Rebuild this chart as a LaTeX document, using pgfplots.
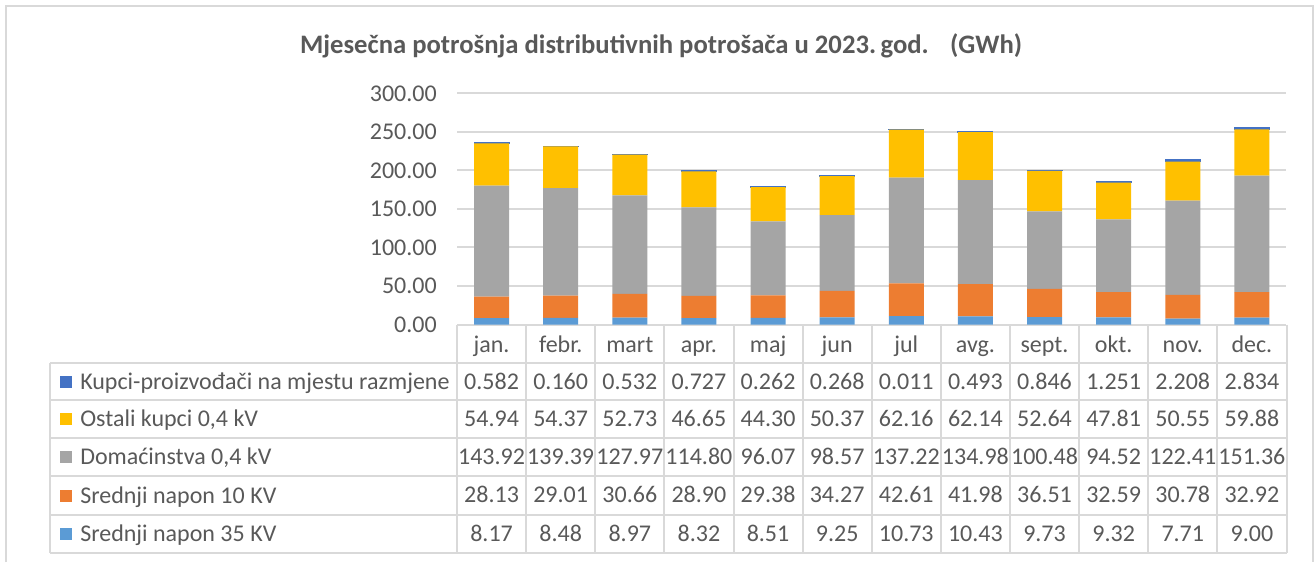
\documentclass[border=0pt]{standalone}
\usepackage{pgfplots}
\usepackage{pgfplotstable}
\usepackage{fontspec}
\pgfplotsset{compat=1.18}
\setmainfont{Carlito}

\definecolor{csn35}{HTML}{5B9BD5}
\definecolor{csn10}{HTML}{ED7D31}
\definecolor{cdom}{HTML}{A5A5A5}
\definecolor{costali}{HTML}{FFC000}
\definecolor{ckp}{HTML}{4472C4}
\definecolor{cgrid}{HTML}{D9D9D9}
\definecolor{ctxt}{HTML}{595959}

% monthly consumption, GWh
\pgfplotstableread{
idx month kp    ostali dom    sn10  sn35
0   jan.  0.582 54.94  143.92 28.13 8.17
1   febr. 0.160 54.37  139.39 29.01 8.48
2   mart  0.532 52.73  127.97 30.66 8.97
3   apr.  0.727 46.65  114.80 28.90 8.32
4   maj   0.262 44.30  96.07  29.38 8.51
5   jun   0.268 50.37  98.57  34.27 9.25
6   jul   0.011 62.16  137.22 42.61 10.73
7   avg.  0.493 62.14  134.98 41.98 10.43
8   sept. 0.846 52.64  100.48 36.51 9.73
9   okt.  1.251 47.81  94.52  32.59 9.32
10  nov.  2.208 50.55  122.41 30.78 7.71
11  dec.  2.834 59.88  151.36 32.92 9.00
}\data

\newcommand{\bodyfont}{\fontsize{18pt}{21pt}\selectfont}

\pgfplotsset{
  frame/.style={
    at={(342.75pt,-243.375pt)}, anchor=south west,
    scale only axis, width=622.1pt, height=173.4pt,
    xmin=-0.5, xmax=11.5, ymin=0, ymax=300,
  },
  cell/.style={draw=none, mark=none, nodes near coords,
    point meta=explicit symbolic,
    every node near coord/.append style={anchor=base, inner sep=0pt,
      font=\bodyfont, text=ctxt}},
}

\begin{document}
\begin{tikzpicture}
\begin{axis}[frame,
    ybar stacked, bar width=0.506,
    axis line style={draw=none},
    xtick=\empty,
    ytick={0,50,...,300},
    ytick style={draw=none},
    ymajorgrids, grid style={draw=cgrid, line width=1.5pt},
    yticklabel style={font=\bodyfont, text=ctxt, inner sep=0pt, xshift=-15pt,
      /pgf/number format/.cd, fixed, fixed zerofill, precision=2,
      assume math mode=true},
  ]
  \addplot[fill=csn35, draw=none] table[x=idx, y=sn35] {\data};
  \addplot[fill=csn10, draw=none] table[x=idx, y=sn10] {\data};
  \addplot[fill=cdom, draw=none] table[x=idx, y=dom] {\data};
  \addplot[fill=costali, draw=none] table[x=idx, y=ostali] {\data};
  \addplot[fill=ckp, draw=ckp, line width=0.8pt] table[x=idx, y=kp] {\data};
\end{axis}

% data table under the chart
\begin{axis}[frame, hide axis, clip=false]
  \addplot[cell] table[x=idx, y expr=-35.7, meta=month] {\data};
  \addplot[cell] table[x=idx, y expr=-83.7, meta=kp] {\data};
  \addplot[cell] table[x=idx, y expr=-132.4, meta=ostali] {\data};
  \addplot[cell] table[x=idx, y expr=-181.7, meta=dom] {\data};
  \addplot[cell] table[x=idx, y expr=-231.6, meta=sn10] {\data};
  \addplot[cell] table[x=idx, y expr=-281.6, meta=sn35] {\data};
\end{axis}

\begin{scope}[x=0.75pt, y=-0.75pt]
  % outer frame
  \draw[cgrid, line width=1.5pt] (6,562) -- (6,6) -- (1313,6) -- (1313,562);
  \node[anchor=base, text=ctxt, font=\fontsize{20pt}{24pt}\selectfont\bfseries]
    at (661,53) {Mjesečna potrošnja distributivnih potrošača u 2023.\,god.\hspace{0.8em}(GWh)};
  % table grid
  \foreach \y in {363,400,438,476,515,553}
    \draw[cgrid, line width=1.5pt] (50,\y) -- (1286.5,\y);
  \draw[cgrid, line width=1.5pt] (50,363) -- (50,553);
  \foreach \k in {0,...,12}
    \draw[cgrid, line width=1.5pt] ({457+\k*69.125},324.5) -- ({457+\k*69.125},553);
  % legend keys
  \foreach \c/\yc/\t in {ckp/381.5/Kupci-proizvođači na mjestu razmjene,
      costali/419/{Ostali kupci 0,4 kV},
      cdom/457/{Domaćinstva 0,4 kV},
      csn10/495.5/Srednji napon 10 KV,
      csn35/534/Srednji napon 35 KV} {
    \fill[\c] (60,\yc-6) rectangle (72,\yc+6);
    \node[anchor=base west, inner sep=0pt, text=ctxt, font=\bodyfont]
      at (80,\yc+7.5) {\t};
  }
\end{scope}
\pgfresetboundingbox
\path (0,0) rectangle (986.25pt,-421.5pt);
\end{tikzpicture}
\end{document}
